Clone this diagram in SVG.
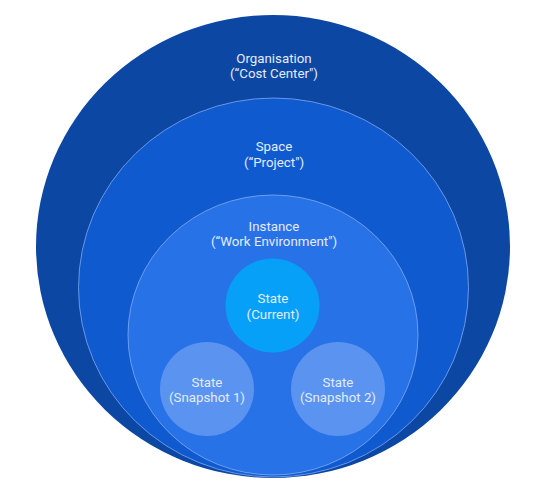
<svg xmlns="http://www.w3.org/2000/svg" width="546" height="498" viewBox="0 0 546 498">
<style>
text{font-family:Roboto,"Liberation Sans",sans-serif;font-size:13.3px;fill:#e3ecff;text-anchor:middle}
.ring{stroke:#8fb4f5;stroke-opacity:0.7;stroke-width:1}
</style>
<rect width="546" height="498" fill="#ffffff"/>
<g id="organisation">
<ellipse cx="273" cy="246.5" rx="237" ry="231.5" fill="#0c47a3"/>
<text x="274" y="62.5">Organisation</text>
<text x="274" y="78">(“Cost Center")</text>
</g>
<g id="space">
<ellipse class="ring" cx="273.5" cy="287.5" rx="195" ry="189.5" fill="#105ad0"/>
<text x="274" y="151">Space</text>
<text x="274" y="166.5">(“Project")</text>
</g>
<g id="instance">
<ellipse class="ring" cx="273" cy="335" rx="145" ry="140" fill="#2872e8"/>
<text x="274" y="230.5">Instance</text>
<text x="274" y="246">(“Work Environment")</text>
</g>
<g id="state-current">
<circle cx="272.5" cy="305.5" r="47" fill="#07a0f8"/>
<text x="273" y="303">State</text>
<text x="273" y="318.5">(Current)</text>
</g>
<g id="state-snapshot-1">
<circle cx="207" cy="389" r="47" fill="#5b93f0"/>
<text x="207" y="386.5">State</text>
<text x="207" y="402">(Snapshot 1)</text>
</g>
<g id="state-snapshot-2">
<circle cx="338" cy="389" r="47" fill="#5b93f0"/>
<text x="338" y="386.5">State</text>
<text x="338" y="402">(Snapshot 2)</text>
</g>
<g id="connectors"></g>
</svg>
